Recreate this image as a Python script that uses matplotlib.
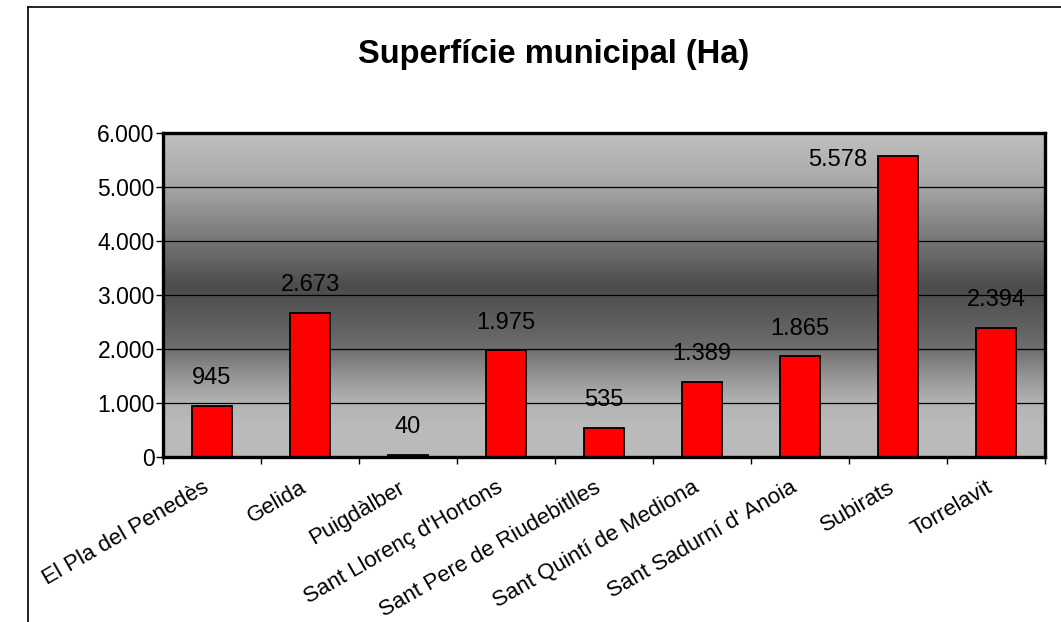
import numpy as np
import matplotlib
matplotlib.use("Agg")
import matplotlib.pyplot as plt
from matplotlib.colors import LinearSegmentedColormap
from matplotlib.lines import Line2D
from matplotlib.ticker import FuncFormatter, FixedLocator
from matplotlib.transforms import ScaledTranslation

plt.rcParams['font.family'] = ['Liberation Sans', 'DejaVu Sans']

# Data
municipis = ["El Pla del Penedès", "Gelida", "Puigdàlber", "Sant Llorenç d'Hortons",
             "Sant Pere de Riudebitlles", "Sant Quintí de Mediona",
             "Sant Sadurní d' Anoia", "Subirats", "Torrelavit"]
superficie = [945, 2673, 40, 1975, 535, 1389, 1865, 5578, 2394]
y_ticks = [0, 1000, 2000, 3000, 4000, 5000, 6000]

fig = plt.figure(figsize=(10.61, 6.22), dpi=100)
ax = fig.add_axes([163 / 1061, 1 - 457 / 622, (1045 - 163) / 1061, (457 - 133) / 622])

# grey gradient background (light - dark - light)
stops = [(0.0, 0.73), (0.10, 0.73), (0.167, 0.70), (0.25, 0.58), (0.333, 0.43),
         (0.50, 0.31), (0.53, 0.30), (0.667, 0.46), (0.833, 0.65), (1.0, 0.75)]
cmap = LinearSegmentedColormap.from_list(
    "bg", [(p, (g, g, g)) for p, g in stops])
grad = np.linspace(0, 1, 400).reshape(-1, 1)
x = np.arange(len(municipis))
ax.imshow(grad, cmap=cmap, aspect='auto', origin='lower',
          extent=[-0.5, len(municipis) - 0.5, 0, 6000], zorder=0)

ax.set_xlim(-0.5, len(municipis) - 0.5)
ax.set_ylim(0, 6000)

for yv in y_ticks[1:-1]:
    ax.axhline(yv, color='black', lw=0.9, zorder=1)

bars = ax.bar(x, superficie, width=0.41, color='#ff0000', edgecolor='black',
              linewidth=1.3, zorder=2)

for i, v in enumerate(superficie):
    label = f"{v:,}".replace(",", ".")
    if v > 5000:
        ax.text(i - 0.31, 5500, label, ha='right', va='center', fontsize=17)
    else:
        ax.annotate(label, (i, v), xytext=(0, 20), textcoords='offset points',
                    ha='center', va='center', fontsize=17)

ax.yaxis.set_major_locator(FixedLocator(y_ticks))
ax.yaxis.set_major_formatter(FuncFormatter(lambda v, p: f"{int(v):,}".replace(",", ".")))
ax.tick_params(axis='y', direction='out', length=5, width=1, labelsize=16.5, pad=1)

# category boundaries as ticks, labels at centres
ax.set_xticks(np.arange(-0.5, len(municipis)), minor=False)
ax.set_xticklabels([])
ax.tick_params(axis='x', which='major', direction='out', length=5, width=1)
ax.set_xticks(x, minor=True)
ax.set_xticklabels(municipis, minor=True, rotation=30, ha='right', va='center',
                   rotation_mode='anchor', fontsize=16)
ax.tick_params(axis='x', which='minor', length=0, pad=21)
shift = ScaledTranslation(-5 / 100, 0, fig.dpi_scale_trans)
for lbl in ax.get_xticklabels(minor=True):
    lbl.set_transform(lbl.get_transform() + shift)

for s in ax.spines.values():
    s.set_linewidth(2.4)
    s.set_color('black')

fig.text(554 / 1061, 1 - 55 / 622, "Superfície municipal (Ha)", ha='center', va='center',
         fontsize=23.5, fontweight='bold')

# outer chart frame
fig.add_artist(Line2D([28 / 1061, 28 / 1061], [0, 1 - 7 / 622], color='black', lw=1.2))
fig.add_artist(Line2D([28 / 1061, 1], [1 - 7 / 622, 1 - 7 / 622], color='black', lw=1.2))

fig.savefig("out.png", dpi=100)
